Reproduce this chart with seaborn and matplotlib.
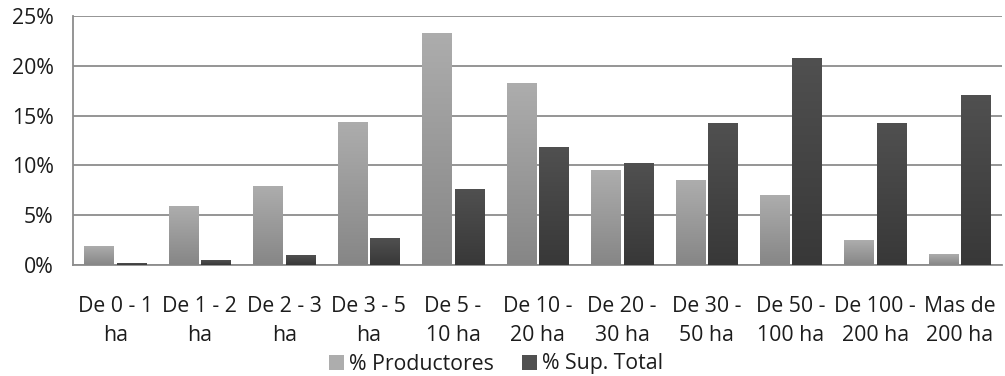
import matplotlib
matplotlib.use("Agg")
import matplotlib.pyplot as plt
import numpy as np
import pandas as pd
import seaborn as sns
from matplotlib.colors import LinearSegmentedColormap
from matplotlib.patches import Patch
from matplotlib.ticker import PercentFormatter

categories = ["De 0 - 1\nha", "De 1 - 2\nha", "De 2 - 3\nha", "De 3 - 5\nha",
              "De 5 -\n10 ha", "De 10 -\n20 ha", "De 20 -\n30 ha", "De 30 -\n50 ha",
              "De 50 -\n100 ha", "De 100 -\n200 ha", "Mas de\n200 ha"]
productores = [1.9, 5.9, 7.9, 14.4, 23.3, 18.3, 9.5, 8.5, 7.0, 2.5, 1.1]
sup_total = [0.2, 0.5, 1.0, 2.7, 7.6, 11.8, 10.2, 14.3, 20.8, 14.3, 17.1]
series_names = ["% Productores", "% Sup. Total"]
y_ticks = [0, 5, 10, 15, 20, 25]

df = pd.DataFrame({
    "rango": categories * 2,
    "valor": productores + sup_total,
    "serie": [series_names[0]] * len(categories) + [series_names[1]] * len(categories),
})

sns.set_theme(style="white")
plt.rcParams["font.family"] = ["Open Sans", "DejaVu Sans"]

text_color = "#1c1c1c"
grid_color = "#8c8c8c"
# top/bottom shades of the vertical gradient for each series
shades = {series_names[0]: ("#adadad", "#868686"),
          series_names[1]: ("#505050", "#383838")}

fig = plt.figure(figsize=(10.05, 3.76), dpi=100)
ax = fig.add_axes([73 / 1005, 111 / 376, 929 / 1005, 249 / 376])

sns.barplot(data=df, x="rango", y="valor", hue="serie", hue_order=series_names,
            palette=[shades[s][0] for s in series_names], width=0.77, gap=0.1,
            ax=ax, legend=False, zorder=3)

# paint each bar with a vertical gradient clipped to the bar shape
n = len(categories)
grad = np.linspace(0, 1, 256).reshape(-1, 1)
for i, bar in enumerate(ax.patches[: 2 * n]):
    name = series_names[i // n]
    cmap = LinearSegmentedColormap.from_list(name, [shades[name][1], shades[name][0]])
    x0 = bar.get_x()
    w = bar.get_width()
    h = bar.get_height()
    bar.set_edgecolor("none")
    im = ax.imshow(grad, extent=[x0, x0 + w, 0, h], origin="lower", aspect="auto",
                   cmap=cmap, zorder=3.5, interpolation="bicubic")
    im.set_clip_path(bar)

ax.set_xlim(-0.5, n - 0.5)
ax.set_ylim(0, 25)
ax.set_yticks(y_ticks)
ax.yaxis.set_major_formatter(PercentFormatter(decimals=0))
ax.set_xlabel("")
ax.set_ylabel("")

ax.grid(axis="y", color=grid_color, linewidth=1.3, zorder=0)
ax.set_axisbelow(True)
for side in ("top", "right"):
    ax.spines[side].set_visible(False)
for side in ("left", "bottom"):
    ax.spines[side].set_color(grid_color)
    ax.spines[side].set_linewidth(1.3)

ax.tick_params(axis="y", length=0, pad=14, labelsize=15.3, labelcolor=text_color)
ax.tick_params(axis="x", length=0, pad=22, labelsize=15.3, labelcolor=text_color)
for lab in ax.get_xticklabels():
    lab.set_linespacing(1.55)

handles = [Patch(facecolor=shades[s][0], edgecolor="none") for s in series_names]
fig.legend(handles, series_names, loc="center", bbox_to_anchor=(496 / 1005, 1 - 364 / 376),
           ncol=2, frameon=False, fontsize=15.3, handlelength=0.7, handleheight=0.7,
           handletextpad=0.25, columnspacing=1.3, labelcolor=text_color, borderpad=0)

fig.savefig("out.png", dpi=100)
